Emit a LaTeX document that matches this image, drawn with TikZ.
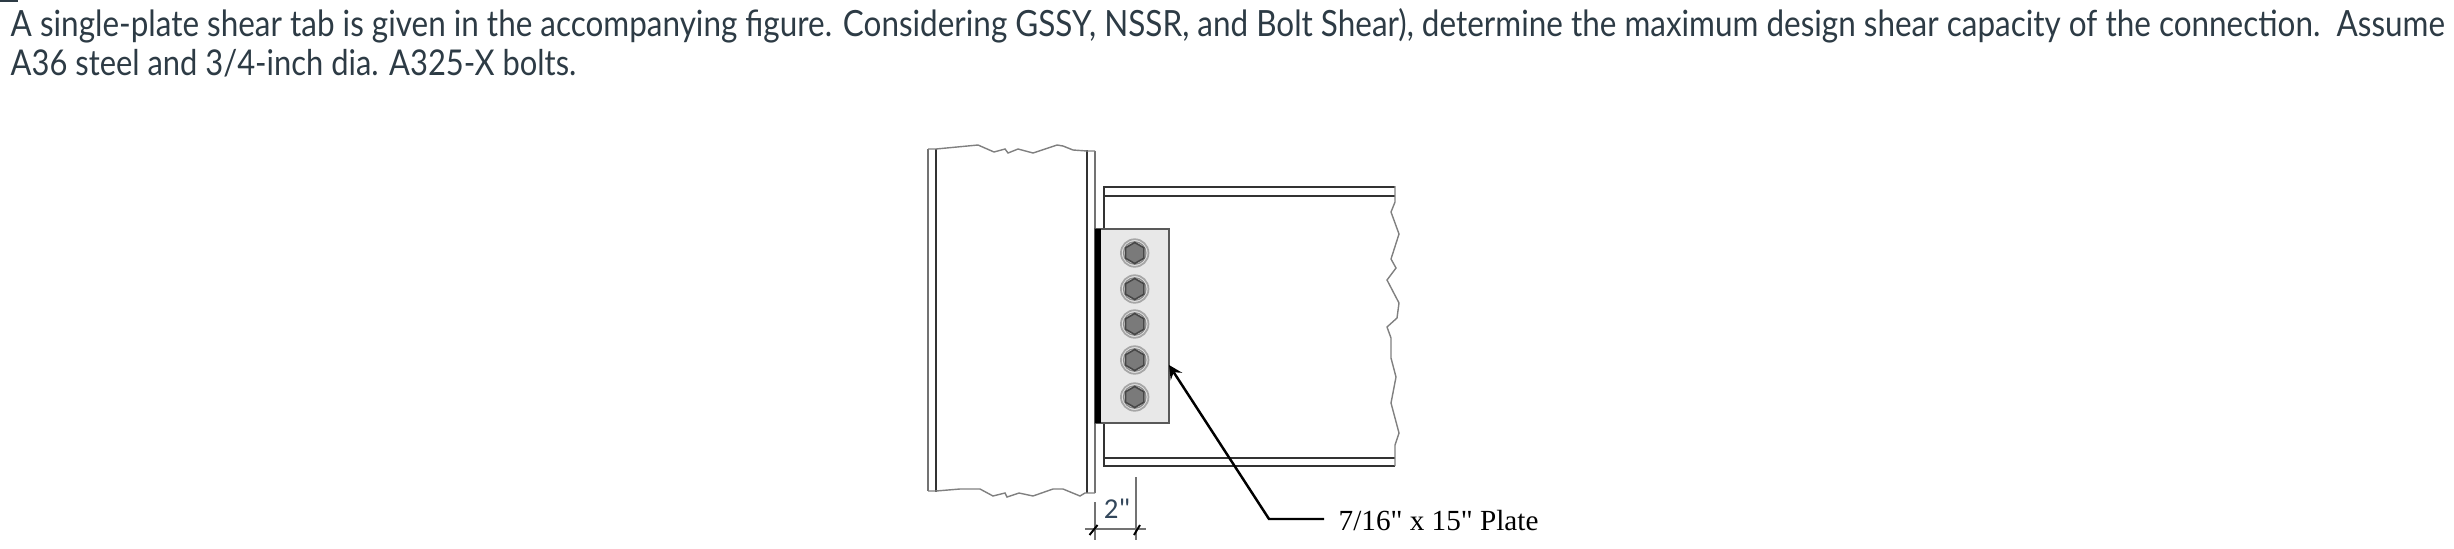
\documentclass[tikz,border=0pt]{standalone}
\usepackage{fontspec}
\newfontfamily\qfont[FakeStretch=0.87]{Lato}
\newfontfamily\platefont{Liberation Serif}
\newfontfamily\dimfont{Carlito}
\usetikzlibrary{shapes.geometric}
\definecolor{textcol}{HTML}{2D3B45}
\definecolor{dimcol}{HTML}{33475B}
\tikzset{
  qtext/.style={anchor=base west,inner sep=0pt,text=textcol,font=\qfont\fontsize{10.1}{12}\selectfont},
  flange/.style={line width=.75pt,black!80},
  thinline/.style={line width=.5pt,black!55},
  breakline/.style={line width=.4pt,black!50}
}
\begin{document}
\begin{tikzpicture}[>=stealth,x=0.01cm,y=-0.01cm]
  \useasboundingbox (0,0) rectangle (2454,548);
  \fill[textcol] (0,0) rectangle (18,2);
  \node[qtext,font=\qfont\fontsize{10.28}{12}\selectfont] (lineone) at (10,36) {A single-plate shear tab is given in the accompanying figure. Considering GSSY, NSSR, and Bolt Shear), determine the maximum design shear capacity of the connection.\ \ Assume};
  \node[qtext] (linetwo) at (10,75) {A36 steel and 3/4-inch dia. A325-X bolts.};
  % column
  \draw[thinline] (928,149) -- (928,491) (1095,151) -- (1095,229) (1095,423) -- (1095,493);
  \draw[flange] (936,149) -- (936,492) (1087,150) -- (1087,493);
  \draw[breakline] plot coordinates{(928,149) (936,149) (978,145) (994,152) (1005,149) (1008,153) (1018,149) (1033,153) (1057,145) (1063,146) (1073,150) (1087,151) (1095,151)};
  \draw[breakline] plot coordinates{(928,491) (936,491) (948,490) (960,489) (980,489) (993,496) (1005,493) (1007,497) (1019,493) (1033,496) (1053,489) (1063,489) (1080,496) (1085,493) (1095,493)};
  % beam
  \draw[flange] (1395,187) -- (1104,187) -- (1104,229) (1104,423) -- (1104,466) -- (1395,466);
  \draw[flange] (1104,196) -- (1395,196) (1104,458) -- (1395,458);
  \draw[breakline] plot coordinates{(1395,186) (1395,202) (1391,212) (1399,234) (1391,259) (1396,268) (1387,280) (1399,303) (1397,318) (1387,327) (1391,338) (1391,358) (1396,377) (1391,403) (1399,433) (1395,445) (1395,466)};
  % plate
  \fill[black!9] (1095,229) rectangle (1168.7,423);
  \draw[line width=.6pt,black!65] (1095,229) rectangle (1168.7,423);
  \fill[black] (1095,229) rectangle (1100.7,423);
  \foreach \ybolt/\name in {253/a,289/b,324/c,360/d,397/e}{
    \node[circle,draw=black!35,fill=black!10,line width=.5pt,minimum size=.275cm,inner sep=0pt] (washer\name) at (1134.7,\ybolt) {};
    \node[circle,draw=black!45,fill=black!18,line width=.35pt,minimum size=.225cm,inner sep=0pt] (ring\name) at (1134.7,\ybolt) {};
    \node[regular polygon,regular polygon sides=6,shape border rotate=30,draw=black!72,fill=black!52,line width=.45pt,minimum size=.21cm,inner sep=0pt] (bolt\name) at (1134.7,\ybolt) {};
  }
  % leader
  \coordinate (tip) at (1169,365);
  \coordinate (elbow) at (1269,519);
  \node[anchor=base west,inner sep=0pt,font=\platefont\fontsize{8.3}{10}\selectfont] (platelabel) at (1338,530) {7/16" x 15" Plate};
  \draw[->,line width=.7pt] (1324,519) -- (elbow) -- (tip);
  % dimension
  \coordinate (dimleft) at (1095,529);
  \coordinate (dimright) at (1136,529);
  \draw[thinline] (1095,502) -- (1095,540) (1136,477) -- (1136,540) (1085,529) -- (1146,529);
  \draw[line width=.55pt,black] (1089.5,535) -- (1097.5,525) (1134,535) -- (1140,525);
  \node[inner sep=0pt,text=dimcol,font=\dimfont\fontsize{8.2}{10}\selectfont] (dimlabel) at (1117,509) {2"};
\end{tikzpicture}
\end{document}
